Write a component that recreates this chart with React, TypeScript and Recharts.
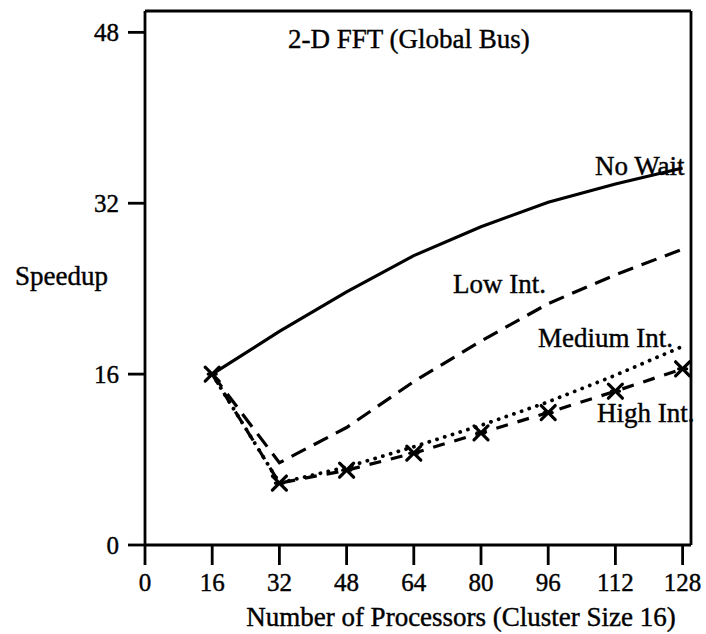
import { LineChart, Line, XAxis, YAxis, ReferenceLine } from 'recharts';

// values
const processors = [16, 32, 48, 64, 80, 96, 112, 128];
const noWait = [16, 20.0, 23.7, 27.1, 29.8, 32.1, 33.8, 35.3];
const lowInt = [16, 7.7, 11.0, 15.3, 19.1, 22.6, 25.3, 27.7];
const mediumInt = [16, 5.8, 7.3, 9.2, 11.2, 13.4, 15.9, 18.6];
const highInt = [16, 5.8, 7.0, 8.6, 10.5, 12.4, 14.4, 16.5];

const xTicks = [0, 16, 32, 48, 64, 80, 96, 112, 128];
const yTicks = [0, 16, 32, 48];

const FONT = '"Liberation Serif", "Times New Roman", serif';
const INK = '#000';

const data = processors.map((p, i) => ({
  p,
  noWait: noWait[i],
  lowInt: lowInt[i],
  mediumInt: mediumInt[i],
  highInt: highInt[i],
}));

// the "x" marks on the High Int. curve
const CrossDot = (props: any) => {
  const { cx, cy, index } = props;
  if (cx == null || cy == null) return <g key={`x-${index}`} />;
  const s = 7;
  return (
    <g key={`x-${index}`} stroke={INK} strokeWidth={3.2} strokeLinecap="round">
      <line x1={cx - s} y1={cy - s} x2={cx + s} y2={cy + s} />
      <line x1={cx - s} y1={cy + s} x2={cx + s} y2={cy - s} />
      <line x1={cx - 4} y1={cy} x2={cx + 4} y2={cy} />
    </g>
  );
};

export default function App() {
  const axisStyle = { stroke: INK, strokeWidth: 2.8 };
  const tickStyle = { fill: INK, fontSize: 25, fontFamily: FONT, stroke: INK, strokeWidth: 0.4 };

  return (
    <div style={{ position: 'absolute', left: 0, top: 0, width: 706, height: 634, background: '#fff' }}>
      <LineChart
        width={706}
        height={634}
        data={data}
        margin={{ top: 11, right: 15, left: 0, bottom: 0 }}
      >
        <XAxis
          dataKey="p"
          type="number"
          domain={[0, 130]}
          ticks={xTicks}
          interval={0}
          height={89}
          tickSize={20}
          tickMargin={8}
          axisLine={axisStyle}
          tickLine={axisStyle}
          tick={tickStyle}
        />
        <YAxis
          type="number"
          domain={[0, 50]}
          ticks={yTicks}
          interval={0}
          width={145}
          tickSize={17}
          tickMargin={9}
          axisLine={axisStyle}
          tickLine={axisStyle}
          tick={tickStyle}
        />

        {/* frame top / right */}
        <ReferenceLine y={50} stroke={INK} strokeWidth={2.8} />
        <ReferenceLine x={130} stroke={INK} strokeWidth={2.8} />

        <Line
          dataKey="noWait"
          stroke={INK}
          strokeWidth={3.2}
          dot={false}
          type="linear"
          isAnimationActive={false}
        />
        <Line
          dataKey="lowInt"
          stroke={INK}
          strokeWidth={3.2}
          strokeDasharray="16 9"
          dot={false}
          type="linear"
          isAnimationActive={false}
        />
        <Line
          dataKey="mediumInt"
          stroke={INK}
          strokeWidth={3.8}
          strokeDasharray="0.1 8"
          strokeLinecap="round"
          dot={false}
          type="linear"
          isAnimationActive={false}
        />
        <Line
          dataKey="highInt"
          stroke={INK}
          strokeWidth={3.2}
          strokeDasharray="12 10"
          dot={CrossDot}
          activeDot={false}
          type="linear"
          isAnimationActive={false}
        />
      </LineChart>

      {/* annotations */}
      <svg
        width={706}
        height={634}
        style={{ position: 'absolute', left: 0, top: 0, pointerEvents: 'none' }}
        fontFamily={FONT}
        fontSize={27}
        fill={INK}
        stroke={INK}
        strokeWidth={0.4}
      >
        <text x={288} y={48}>2-D FFT (Global Bus)</text>
        <text x={595} y={175}>No Wait</text>
        <text x={453} y={293}>Low Int.</text>
        <text x={538} y={347}>Medium Int.</text>
        <text x={597} y={422}>High Int.</text>
        <text x={15} y={285}>Speedup</text>
        <text x={461} y={626} textAnchor="middle">Number of Processors (Cluster Size 16)</text>
      </svg>
    </div>
  );
}
